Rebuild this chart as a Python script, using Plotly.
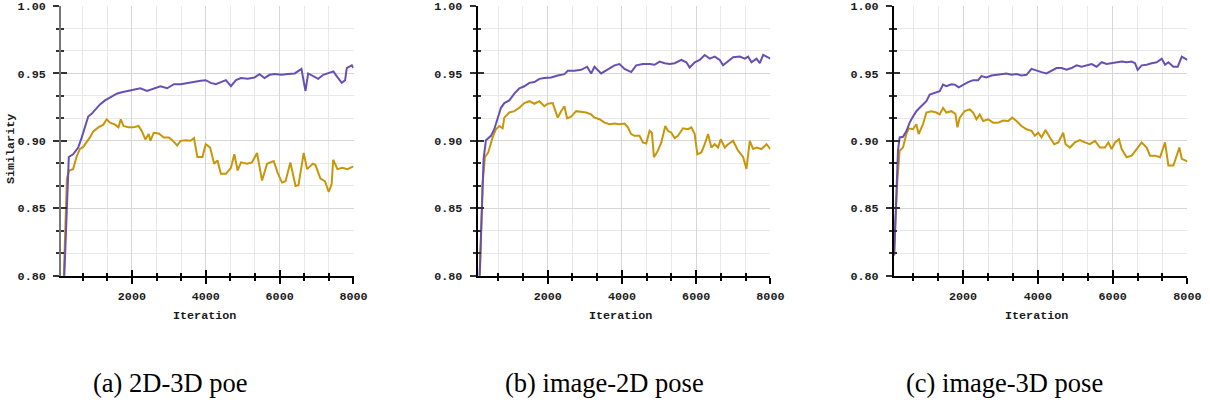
import plotly.graph_objects as go

# ---------------- data ----------------
# Panel (a) 2D-3D poe
a_purple_iter = [150, 292, 409, 546, 636, 727, 818, 909, 1000, 1136, 1273, 1409, 1591, 1727, 1909, 2045,
                 2227, 2409, 2591, 2773, 2955, 3136, 3318, 3500, 3682, 3864, 4000, 4136, 4273, 4409,
                 4545, 4682, 4818, 4955, 5136, 5318, 5455, 5591, 5727, 5864, 6045, 6227, 6409, 6591,
                 6700, 6773, 6909, 7045, 7182, 7318, 7455, 7545, 7682, 7773, 7818, 7955, 8000]
a_purple_sim = [0.785, 0.888, 0.890, 0.895, 0.902, 0.910, 0.918, 0.920, 0.923, 0.927, 0.930, 0.932, 0.935,
                0.936, 0.937, 0.9375, 0.939, 0.937, 0.939, 0.9405, 0.939, 0.942, 0.942, 0.943, 0.9436,
                0.9446, 0.945, 0.943, 0.942, 0.9436, 0.945, 0.9405, 0.945, 0.9466, 0.946, 0.947, 0.9495,
                0.9466, 0.949, 0.9495, 0.949, 0.9495, 0.950, 0.9534, 0.937, 0.950, 0.948, 0.946, 0.949,
                0.950, 0.9515, 0.948, 0.943, 0.945, 0.954, 0.956, 0.954]
a_gold_iter = [140, 240, 300, 409, 500, 591, 682, 773, 864, 955, 1091, 1227, 1318, 1409, 1545, 1636, 1700,
               1773, 1909, 2045, 2182, 2273, 2364, 2455, 2500, 2591, 2727, 2864, 3000, 3091, 3227, 3318,
               3455, 3591, 3682, 3773, 3909, 4000, 4118, 4227, 4318, 4409, 4545, 4682, 4773, 4864, 4955,
               5117, 5250, 5389, 5524, 5660, 5840, 5950, 6066, 6160, 6291, 6430, 6510, 6652, 6744, 6900,
               6970, 7105, 7227, 7330, 7409, 7450, 7565, 7700, 7835, 8000]
a_gold_sim = [0.785, 0.872, 0.878, 0.879, 0.888, 0.894, 0.8955, 0.899, 0.9025, 0.907, 0.910, 0.912, 0.916,
              0.9135, 0.912, 0.910, 0.916, 0.911, 0.910, 0.910, 0.911, 0.907, 0.901, 0.905, 0.900, 0.906,
              0.9055, 0.9025, 0.9025, 0.9005, 0.8965, 0.900, 0.9005, 0.900, 0.902, 0.888, 0.888, 0.8975,
              0.895, 0.883, 0.8855, 0.8755, 0.8755, 0.880, 0.890, 0.878, 0.884, 0.883, 0.884, 0.891, 0.8705,
              0.883, 0.885, 0.876, 0.869, 0.870, 0.884, 0.8665, 0.867, 0.891, 0.879, 0.883, 0.882, 0.872,
              0.870, 0.862, 0.868, 0.886, 0.879, 0.880, 0.879, 0.881]

# Panel (b) image-2D pose
b_purple_iter = [140, 272, 335, 470, 560, 650, 740, 830, 965, 1100, 1235, 1370, 1505, 1640, 1775, 1910,
                 2090, 2270, 2450, 2540, 2720, 2900, 3062, 3170, 3260, 3440, 3620, 3800, 3935, 4070, 4250,
                 4385, 4565, 4745, 4880, 5015, 5150, 5285, 5420, 5600, 5735, 5825, 5960, 6095, 6230, 6365,
                 6500, 6635, 6725, 6860, 6995, 7175, 7310, 7400, 7490, 7625, 7715, 7805, 7895, 8000]
b_purple_sim = [0.78, 0.8865, 0.9005, 0.9037, 0.9086, 0.916, 0.9245, 0.928, 0.930, 0.935, 0.939, 0.9405,
                0.943, 0.9436, 0.946, 0.9466, 0.947, 0.9485, 0.9495, 0.952, 0.952, 0.9527, 0.955, 0.950,
                0.955, 0.950, 0.9527, 0.956, 0.957, 0.9534, 0.951, 0.956, 0.957, 0.957, 0.9564, 0.9588,
                0.9576, 0.957, 0.9576, 0.960, 0.9583, 0.9544, 0.9583, 0.960, 0.9637, 0.961, 0.9625, 0.960,
                0.956, 0.9593, 0.962, 0.9625, 0.961, 0.9625, 0.9583, 0.961, 0.9576, 0.9637, 0.9625, 0.961]
b_gold_iter = [150, 245, 308, 398, 515, 605, 695, 785, 830, 965, 1100, 1235, 1370, 1505, 1640, 1775, 1910,
               2000, 2135, 2270, 2360, 2450, 2522, 2630, 2765, 2900, 3035, 3170, 3260, 3395, 3530, 3665,
               3800, 3935, 4070, 4160, 4250, 4340, 4475, 4565, 4655, 4745, 4808, 4862, 4970, 5060, 5168,
               5240, 5330, 5420, 5510, 5645, 5780, 5870, 5960, 6032, 6140, 6230, 6320, 6410, 6500, 6590,
               6662, 6770, 6860, 6995, 7130, 7265, 7355, 7445, 7535, 7625, 7760, 7895, 8000]
b_gold_sim = [0.78, 0.868, 0.8878, 0.8914, 0.9025, 0.9086, 0.911, 0.9093, 0.9172, 0.921, 0.922, 0.9245,
              0.928, 0.9294, 0.9275, 0.9294, 0.9257, 0.9275, 0.928, 0.9172, 0.922, 0.9257, 0.9167, 0.918,
              0.922, 0.9216, 0.921, 0.9196, 0.9172, 0.916, 0.9135, 0.9123, 0.9128, 0.9123, 0.9128, 0.910,
              0.905, 0.9037, 0.9037, 0.8988, 0.898, 0.9074, 0.906, 0.8878, 0.8927, 0.8988, 0.911, 0.9074,
              0.906, 0.902, 0.9037, 0.9093, 0.9086, 0.910, 0.905, 0.890, 0.8914, 0.8975, 0.905, 0.895,
              0.8975, 0.895, 0.9012, 0.895, 0.8975, 0.900, 0.8927, 0.8878, 0.8792, 0.900, 0.8939, 0.895,
              0.8939, 0.8975, 0.8939]

# Panel (c) image-3D pose
c_purple_iter = [155, 259, 303, 393, 482, 571, 661, 750, 839, 928, 1018, 1107, 1241, 1375, 1464, 1554, 1688,
                 1777, 1884, 2000, 2134, 2268, 2402, 2491, 2625, 2759, 2893, 3027, 3161, 3295, 3429, 3563,
                 3697, 3831, 3965, 4098, 4232, 4366, 4500, 4634, 4768, 4902, 5036, 5170, 5304, 5438, 5572,
                 5706, 5840, 5974, 6108, 6242, 6375, 6509, 6598, 6670, 6777, 6911, 7045, 7179, 7313, 7402,
                 7491, 7625, 7742, 7849, 8000]
c_purple_sim = [0.815, 0.8927, 0.9025, 0.903, 0.907, 0.9135, 0.918, 0.922, 0.9245, 0.927, 0.9294, 0.9343,
                0.9355, 0.9368, 0.9417, 0.9405, 0.942, 0.9417, 0.9397, 0.9417, 0.9436, 0.945, 0.945, 0.948,
                0.947, 0.9485, 0.949, 0.9495, 0.950, 0.949, 0.9495, 0.9485, 0.949, 0.9534, 0.952, 0.951,
                0.950, 0.952, 0.954, 0.954, 0.9527, 0.954, 0.956, 0.955, 0.956, 0.957, 0.955, 0.9583, 0.957,
                0.9576, 0.9583, 0.9588, 0.9583, 0.9588, 0.9576, 0.9527, 0.956, 0.9564, 0.9576, 0.9583,
                0.961, 0.9564, 0.9583, 0.955, 0.955, 0.9625, 0.960]
c_gold_iter = [155, 240, 303, 393, 482, 545, 661, 750, 812, 928, 1018, 1152, 1286, 1375, 1464, 1554, 1688,
               1795, 1848, 1911, 2045, 2179, 2268, 2357, 2446, 2536, 2670, 2804, 2938, 3072, 3206, 3313,
               3429, 3563, 3697, 3831, 3920, 4009, 4098, 4205, 4322, 4438, 4545, 4679, 4741, 4857, 4991,
               5125, 5259, 5393, 5527, 5661, 5795, 5884, 5974, 6063, 6170, 6242, 6375, 6509, 6643, 6777,
               6911, 7000, 7134, 7268, 7402, 7491, 7625, 7714, 7786, 7849, 8000]
c_gold_sim = [0.815, 0.870, 0.8927, 0.895, 0.905, 0.9093, 0.9086, 0.9123, 0.905, 0.9123, 0.921, 0.922,
              0.921, 0.9196, 0.9245, 0.921, 0.922, 0.920, 0.910, 0.9172, 0.922, 0.9233, 0.921, 0.916,
              0.9196, 0.9147, 0.916, 0.9135, 0.9135, 0.915, 0.9147, 0.9172, 0.9147, 0.911, 0.9086, 0.9074,
              0.9037, 0.906, 0.9025, 0.908, 0.9025, 0.8975, 0.8988, 0.906, 0.8975, 0.895, 0.8988, 0.9005,
              0.8988, 0.8975, 0.900, 0.895, 0.895, 0.8988, 0.8939, 0.8988, 0.9012, 0.8939, 0.8878, 0.889,
              0.8939, 0.8988, 0.895, 0.889, 0.889, 0.8878, 0.8988, 0.8817, 0.8817, 0.890, 0.895, 0.8866,
              0.8848]

x_starts = [83, 113, 152]
captions = ["(a) 2D-3D poe", "(b) image-2D pose", "(c) image-3D pose"]
x_tick_vals = [2000, 4000, 6000, 8000]
y_tick_vals = [0.80, 0.85, 0.90, 0.95, 1.00]

# ---------------- styling ----------------
W, H = 1210, 406


def fx(px):
    """target photo x-pixel -> figure x-pixel (compensates the slight shrink of the photo)"""
    return px / 0.987


def fy(py):
    """target photo y-pixel -> figure y-pixel"""
    return max(0.0, (py - 6.0) / 0.965)


SF = 1.02

PURPLE = "#6650b4"
GOLD = "#c8960a"
MONO = "Liberation Mono"
SERIF = "Liberation Serif"

x_domains_px = [(61, 353), (477, 769.3), (892.7, 1185.7)]
y_top_px, y_bot_px = 4, 275.5
y_domain = [1 - fy(y_bot_px) / H, 1 - fy(y_top_px) / H]
caption_x_px = [170, 604, 1003]
xtitle_x_px = [204, 620, 1035]
yline_colors = ["#777777", "#000000", "#000000"]

fs_tick = 11.5 * SF
tickfont = dict(family=MONO, size=fs_tick, color="#1a1a1a", weight="bold")

fig = go.Figure()
series = [
    (a_purple_iter, a_purple_sim, a_gold_iter, a_gold_sim),
    (b_purple_iter, b_purple_sim, b_gold_iter, b_gold_sim),
    (c_purple_iter, c_purple_sim, c_gold_iter, c_gold_sim),
]

layout_axes = {}
for i in range(3):
    n = i + 1
    xa = "x" if n == 1 else f"x{n}"
    ya = "y" if n == 1 else f"y{n}"
    px_i, py_i, gx_i, gy_i = series[i]
    fig.add_trace(go.Scatter(x=gx_i, y=gy_i, mode="lines", line=dict(color=GOLD, width=2),
                             xaxis=xa, yaxis=ya, showlegend=False, name="gold"))
    fig.add_trace(go.Scatter(x=px_i, y=py_i, mode="lines", line=dict(color=PURPLE, width=2),
                             xaxis=xa, yaxis=ya, showlegend=False, name="purple"))
    dom = [fx(x_domains_px[i][0]) / W, fx(x_domains_px[i][1]) / W]
    xrange = [x_starts[i], 8000.5]
    yrange = [0.79995, 1.00005]
    layout_axes[f"xaxis{'' if n == 1 else n}"] = dict(
        domain=dom, anchor=ya, range=xrange, tickmode="array", tickvals=x_tick_vals,
        ticks="outside", ticklen=6, tickwidth=1.5, tickcolor="#000",
        showline=True, linecolor="#000", linewidth=2, zeroline=False,
        showgrid=True, gridcolor="#d6d6d6", gridwidth=1,
        tickfont=tickfont, ticklabelstandoff=2, ticklabeloverflow="allow",
        minor=dict(tick0=0, dtick=2000 / 3, ticks="outside", ticklen=3, tickwidth=1.5,
                   tickcolor="#000", showgrid=True, gridcolor="#e8e8e8", gridwidth=1),
    )
    layout_axes[f"yaxis{'' if n == 1 else n}"] = dict(
        domain=y_domain, anchor=xa, range=yrange, tickmode="array", tickvals=y_tick_vals,
        tickformat=".2f",
        ticks="outside", ticklen=6, tickwidth=1.5, tickcolor="#333",
        showline=True, linecolor=yline_colors[i], linewidth=2, zeroline=False,
        showgrid=True, gridcolor="#d6d6d6", gridwidth=1,
        tickfont=tickfont, ticklabelstandoff=5, ticklabeloverflow="allow",
        minor=dict(tick0=0.8, dtick=0.05 / 3, ticks="outside", ticklen=3, tickwidth=1.5,
                   tickcolor="#333", showgrid=True, gridcolor="#e8e8e8", gridwidth=1),
    )
    # overlay axes giving the inner half of the crossing ticks
    ox, oy = n + 3, n + 3
    layout_axes[f"xaxis{ox}"] = dict(
        overlaying=xa, anchor=ya, range=xrange, tickmode="array", tickvals=x_tick_vals,
        ticks="inside", ticklen=6, tickwidth=1.5, tickcolor="#000",
        showticklabels=False, showline=False, showgrid=False, zeroline=False,
        minor=dict(tick0=0, dtick=2000 / 3, ticks="inside", ticklen=3, tickwidth=1.5,
                   tickcolor="#000", showgrid=False),
    )
    layout_axes[f"yaxis{oy}"] = dict(
        overlaying=ya, anchor=xa, range=yrange, tickmode="array", tickvals=y_tick_vals,
        ticks="inside", ticklen=6, tickwidth=1.5, tickcolor="#333",
        showticklabels=False, showline=False, showgrid=False, zeroline=False,
        minor=dict(tick0=0.8, dtick=0.05 / 3, ticks="inside", ticklen=3, tickwidth=1.5,
                   tickcolor="#333", showgrid=False),
    )
    fig.add_trace(go.Scatter(x=[], y=[], xaxis=f"x{ox}", yaxis=f"y{oy}", showlegend=False,
                             hoverinfo="skip"))

annotations = []
for i in range(3):
    annotations.append(dict(text="Iteration", x=fx(xtitle_x_px[i]) / W, y=1 - fy(316) / H,
                            xref="paper", yref="paper", showarrow=False,
                            xanchor="center", yanchor="middle",
                            font=dict(family=MONO, size=fs_tick, color="#1a1a1a", weight="bold")))
    annotations.append(dict(text=captions[i], x=fx(caption_x_px[i]) / W, y=1 - fy(383) / H,
                            xref="paper", yref="paper", showarrow=False,
                            xanchor="center", yanchor="middle",
                            font=dict(family=SERIF, size=26.5, color="#000")))
annotations.append(dict(text="Similarity", x=fx(11) / W, y=1 - fy(149) / H, xref="paper", yref="paper",
                        showarrow=False, textangle=-90, xanchor="center", yanchor="middle",
                        font=dict(family=MONO, size=fs_tick, color="#1a1a1a", weight="bold")))

fig.update_layout(
    width=W, height=H, autosize=False, margin=dict(l=0, r=0, t=0, b=0),
    paper_bgcolor="white", plot_bgcolor="white",
    annotations=annotations, **layout_axes,
)

fig.write_html("out.html")
